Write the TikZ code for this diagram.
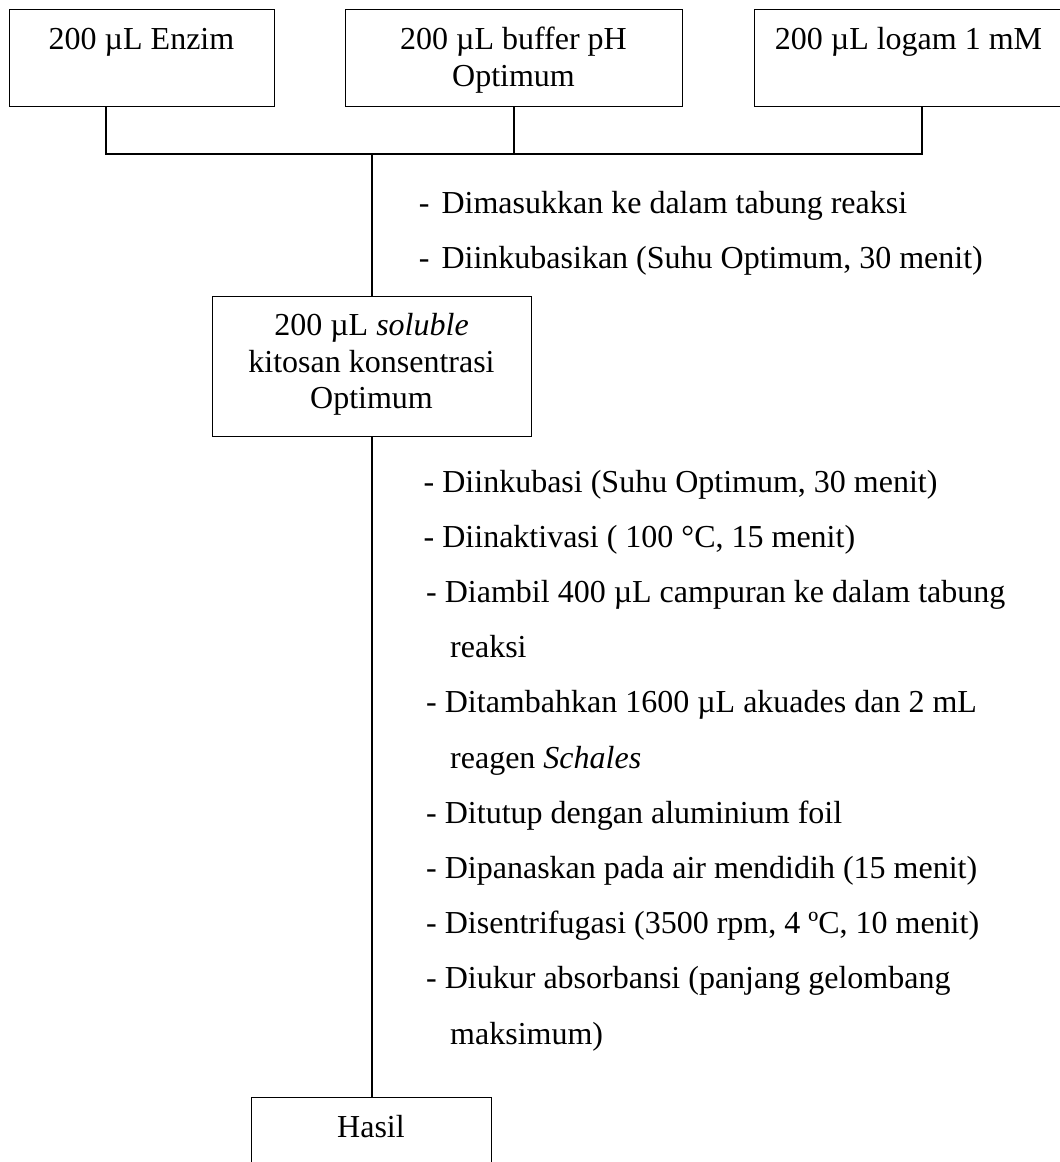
\documentclass[tikz,border=0pt]{standalone}
\usepackage{fontspec}
\setmainfont{Liberation Serif}
\begin{document}
\begin{tikzpicture}[x=1pt,y=-1pt,
  box/.style={draw, line width=1.4pt, inner sep=0pt, anchor=north west},
  wire/.style={line width=1.6pt},
  txt/.style={inner sep=0pt, anchor=base, font=\fontsize{32}{36.8}\selectfont},
  item/.style={inner sep=0pt, anchor=base west, font=\fontsize{32}{36.8}\selectfont}]
\useasboundingbox (0,0) rectangle (1060,1162);
\clip (0,0) rectangle (1060,1162);

% input boxes
\node[box, minimum width=265pt, minimum height=97pt] (b1) at (9,9) {};
\node[box, minimum width=337pt, minimum height=97pt] (b2) at (345,9) {};
\node[box, minimum width=316pt, minimum height=97pt] (b3) at (754,9) {};
\node[txt] (t1) at (141.5,49) {200 µL Enzim};
\node[txt] (t2a) at (513.5,49) {200 µL buffer pH};
\node[txt] (t2b) at (513.5,86) {Optimum};
\node[txt] (t3) at (908.5,49) {200 µL logam 1 mM};

% substrate box
\node[box, minimum width=319pt, minimum height=140pt] (b4) at (212,296) {};
\node[txt] (t4a) at (371.5,335) {200 µL \textit{soluble}};
\node[txt] (t4b) at (371.5,372) {kitosan konsentrasi};
\node[txt] (t4c) at (371.5,408) {Optimum};

% result box
\node[box, minimum width=240pt, minimum height=97pt] (b5) at (251,1097) {};
\node[txt] (t5) at (371,1137) {Hasil};

% connectors
\coordinate (j1) at (106,154);
\coordinate (j3) at (922,154);
\coordinate (jm) at (b4.north |- j1);
\draw[wire] (j1 |- b1.south) -- (j1) -- (j3) -- (j3 |- b3.south);
\draw[wire] (b2.south) -- (b2.south |- j1);
\draw[wire] (jm) -- (b4.north);
\draw[wire] (b4.south) -- (b4.south |- b5.north);

% first group of steps
\node[item] (s1) at (418.7,213) {-\hspace{12pt}Dimasukkan ke dalam tabung reaksi};
\node[item] (s2) at (418.7,268) {-\hspace{12pt}Diinkubasikan (Suhu Optimum, 30 menit)};

% second group of steps
\node[item] (r1) at (423.5,492) {- Diinkubasi (Suhu Optimum, 30 menit)};
\node[item] (r2) at (423.5,547.2) {- Diinaktivasi ( 100 °C, 15 menit)};
\node[item] (r3) at (426,602.4) {- Diambil 400 µL campuran ke dalam tabung};
\node[item] (r3b) at (450,657.6) {reaksi};
\node[item] (r4) at (426,712.8) {- Ditambahkan 1600 µL akuades dan 2 mL};
\node[item] (r4b) at (450,768) {reagen \textit{Schales}};
\node[item] (r5) at (426,823.2) {- Ditutup dengan aluminium foil};
\node[item] (r6) at (426,878.4) {- Dipanaskan pada air mendidih (15 menit)};
\node[item] (r7) at (426,933.6) {- Disentrifugasi (3500 rpm, 4 ºC, 10 menit)};
\node[item] (r8) at (426,988.8) {- Diukur absorbansi (panjang gelombang};
\node[item] (r8b) at (450,1044) {maksimum)};
\end{tikzpicture}
\end{document}
